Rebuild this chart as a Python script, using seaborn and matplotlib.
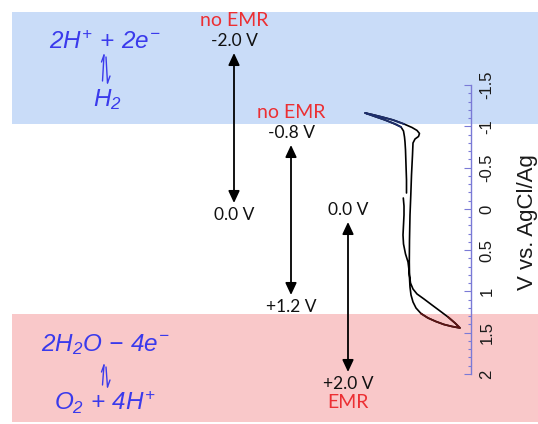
import numpy as np
import matplotlib
matplotlib.use("Agg")
import matplotlib.pyplot as plt
import seaborn as sns
from matplotlib.ticker import FixedLocator

# CV axis (V vs. AgCl/Ag)
axis_ticks = [-1.5, -1, -0.5, 0, 0.5, 1, 1.5, 2]
axis_tick_labels = ['-1.5', '-1', '-0.5', '0', '0.5', '1', '1.5', '2']

# regions of gas evolution (V)
h2_band = (-2.39, -1.03)
o2_band = (1.27, 2.58)

# potential windows, their labels and EMR result
windows = [(-2.0, 0.0), (-0.8, 1.2), (0.0, 2.0)]
start_labels = ['-2.0 V', '-0.8 V', '0.0 V']
end_labels = ['0.0 V', '+1.2 V', '+2.0 V']
emr_labels = ['no EMR', 'no EMR', 'EMR']

# cyclic voltammogram: current (a.u.) and potential (V)
cv_current = [-0.05, -0.05, -0.06, -0.07, -0.08, -0.09, -0.11, -0.16, -0.28, -0.48,
              -0.68, -0.88, -0.74, -0.54, -0.32, -0.10, 0.06, 0.16, 0.21, 0.19,
              0.12, 0.08, 0.07, 0.05, 0.036, 0.02, 0.01, 0.006, 0.01, 0.03,
              0.08, 0.16, 0.30, 0.46, 0.62, 0.78, 0.92, 1.02, 0.86, 0.70,
              0.54, 0.38, 0.24, 0.14, 0.08, 0.04, 0.02, 0.01, 0.0, -0.02,
              -0.07, -0.11, -0.12, -0.11, -0.10, -0.10, -0.114]
cv_potential = [-0.194, -0.352, -0.533, -0.715, -0.812, -0.873, -0.945, -0.994, -1.03, -1.079,
                -1.121, -1.164, -1.145, -1.115, -1.079, -1.03, -0.988, -0.952, -0.915, -0.879,
                -0.848, -0.80, -0.655, -0.412, -0.17, 0.073, 0.376, 0.642, 0.80, 0.897,
                0.970, 1.030, 1.091, 1.164, 1.236, 1.309, 1.382, 1.442, 1.424, 1.40,
                1.364, 1.321, 1.267, 1.20, 1.127, 1.042, 0.945, 0.836, 0.739, 0.642,
                0.545, 0.424, 0.315, 0.194, 0.073, -0.036, -0.133]

sns.set_theme(style="white")
plt.rcParams['font.family'] = ['Lato', 'DejaVu Sans']
plt.rcParams['axes.unicode_minus'] = False
plt.rcParams['mathtext.fontset'] = 'custom'
plt.rcParams['mathtext.rm'] = 'Liberation Sans:italic'
plt.rcParams['mathtext.it'] = 'Liberation Sans:italic'

axis_col = '#7a7ad6'
eq_col = '#3a3aec'
red = '#ec2f33'

fig = plt.figure(figsize=(5.38, 4.24), dpi=100)
ax = fig.add_axes([0, 0, 1, 1])

# background bands
ax.axhspan(*h2_band, xmin=12 / 538, xmax=1, color='#c9dcf8', lw=0, zorder=0)
ax.axhspan(*o2_band, xmin=12 / 538, xmax=1, color='#f9c8c9', lw=0, zorder=0)

# CV curve on a twin axis sharing the potential scale
ax_cv = ax.twiny()
cur = np.array(cv_current)
pot = np.array(cv_potential)
sns.lineplot(x=cur, y=pot, sort=False, estimator=None, color='black', lw=1.2, ax=ax_cv)
neg = pot < -0.99
pos = pot > 1.25
sns.lineplot(x=cur[neg], y=pot[neg], sort=False, estimator=None, color='#1d2e6c', lw=1.3, ax=ax_cv)
sns.lineplot(x=cur[pos], y=pot[pos], sort=False, estimator=None, color='#5c1414', lw=1.3, ax=ax_cv)
ax_cv.axis('off')

# potential axis
ax.set_xlim(0, 538)
ax.set_xticks([])
for s in ['top', 'bottom', 'left']:
    ax.spines[s].set_visible(False)
ax.spines['right'].set_position(('data', 471))
ax.spines['right'].set_bounds(-1.5, 2)
ax.spines['right'].set_color(axis_col)
ax.spines['right'].set_linewidth(1)
ax.yaxis.tick_right()
ax.set_yticks(axis_ticks, labels=axis_tick_labels)
ax.yaxis.set_minor_locator(FixedLocator(np.round(np.arange(-1.5, 2.001, 0.1), 2)))
ax.tick_params(axis='y', which='both', direction='in', colors=axis_col,
               labelcolor='#1a1a1a', width=0.8, right=True)
ax.tick_params(axis='y', which='major', length=5, pad=6, labelsize=12, labelrotation=90)
ax.tick_params(axis='y', which='minor', length=2.5)
for lbl in ax.get_yticklabels():
    lbl.set_fontfamily('Liberation Sans')
    lbl.set_va('center')
ax.yaxis.set_label_position('right')
ax.set_ylabel('V vs. AgCl/Ag', fontsize=16, family='Liberation Sans', color='#1a1a1a')
ax.yaxis.set_label_coords(527 / 538, 1 - 222 / 424)
ax.yaxis.label.set_va('center')

ax.set_ylim(2.606, -2.533)
ax_cv.set_xlim(-8.18, 2.58)

# schematic overlay in pixel units
sch = fig.add_axes([0, 0, 1, 1])
sch.set_xlim(0, 538)
sch.set_ylim(424, 0)
sch.axis('off')

arrow_x = [234, 291, 348]
arrow_zero = [203, 205, 222]
px_per_volt = 75
emr_side = ['top', 'top', 'bottom']
for i, (v0, v1) in enumerate(windows):
    x = arrow_x[i]
    y0 = arrow_zero[i] + px_per_volt * v0
    y1 = arrow_zero[i] + px_per_volt * v1
    sch.annotate('', xy=(x, y1), xytext=(x, y0),
                 arrowprops=dict(arrowstyle='<|-|>,head_length=0.6,head_width=0.28',
                                 color='black', lw=1.3, shrinkA=0, shrinkB=0))
    sch.text(x, y0 - 12, start_labels[i], ha='center', va='center', fontsize=12.5, color='#111111')
    sch.text(x, y1 + 12, end_labels[i], ha='center', va='center', fontsize=12.5, color='#111111')
    ey = y0 - 33 if emr_side[i] == 'top' else y1 + 31
    sch.text(x, ey, emr_labels[i], ha='center', va='center', fontsize=14, color=red)

# reactions
eq_kw = dict(ha='center', va='center', fontsize=17.5, color=eq_col)
sch.text(105, 42, r'$2H^{+}\,+\,2e^{-}$', **eq_kw)
sch.text(107, 100, r'$H_{2}$', **eq_kw)
sch.text(105, 345, r'$2H_{2}O\,-\,4e^{-}$', **eq_kw)
sch.text(105, 403, r'$O_{2}\,+\,4H^{+}$', **eq_kw)

# equilibrium harpoons
for top, h in [(55, 26), (365, 20)]:
    sch.plot([102.5, 104], [top + h, top], color=eq_col, lw=1)
    sch.plot([104, 101.5], [top, top + 7], color=eq_col, lw=1)
    sch.plot([106, 107.5], [top + 2, top + h + 2], color=eq_col, lw=1)
    sch.plot([107.5, 110], [top + h + 2, top + h - 5], color=eq_col, lw=1)

fig.savefig('out.png', dpi=100)
